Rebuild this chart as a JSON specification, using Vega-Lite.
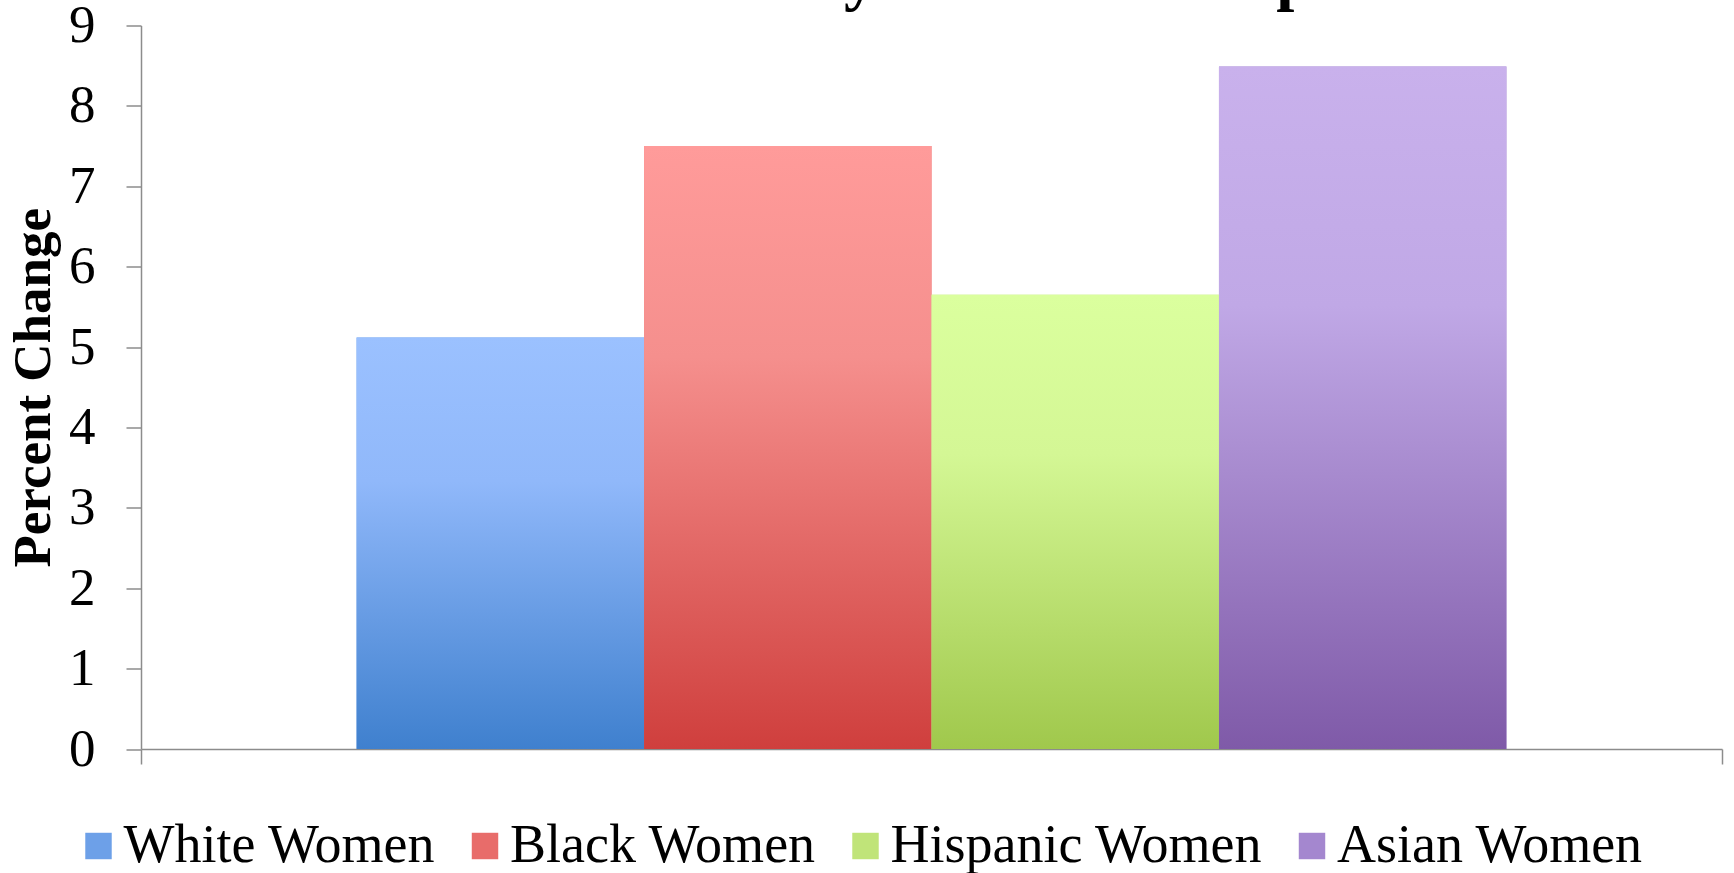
{
  "$schema": "https://vega.github.io/schema/vega-lite/v6.json",
  "width": 1581,
  "height": 723.5,
  "autosize": "none",
  "padding": {"left": 141, "top": 25.5, "right": 12, "bottom": 124},
  "background": "white",
  "title": {
    "text": "Women's Salary Increase Comparison",
    "font": "Liberation Serif",
    "fontSize": 65,
    "fontWeight": "bold",
    "color": "black",
    "anchor": "middle",
    "baseline": "alphabetic",
    "offset": 0,
    "dy": 63,
    "dx": 23
  },
  "data": {
    "values": [
      {"cat": "Women", "group": "White Women", "value": 5.12},
      {"cat": "Women", "group": "Black Women", "value": 7.5},
      {"cat": "Women", "group": "Hispanic Women", "value": 5.65},
      {"cat": "Women", "group": "Asian Women", "value": 8.49}
    ]
  },
  "encoding": {
    "x": {
      "field": "cat", "type": "nominal",
      "scale": {"paddingInner": 0, "paddingOuter": 0},
      "axis": {"labels": false, "title": null, "tickBand": "extent", "tickSize": 15, "tickColor": "#8c8c8c", "domainColor": "#8c8c8c", "tickWidth": 1.5, "domainWidth": 1.5, "grid": false}
    },
    "xOffset": {
      "field": "group", "type": "nominal",
      "scale": {"domain": ["White Women", "Black Women", "Hispanic Women", "Asian Women"], "paddingInner": 0, "paddingOuter": 0.75}
    },
    "y": {
      "field": "value", "type": "quantitative",
      "scale": {"domain": [0, 9], "nice": false},
      "axis": {
        "values": [0, 1, 2, 3, 4, 5, 6, 7, 8, 9],
        "grid": false,
        "tickSize": 15, "tickColor": "#8c8c8c", "domainColor": "#8c8c8c", "tickWidth": 1.5, "domainWidth": 1.5,
        "labelFont": "Liberation Serif", "labelFontSize": 53, "labelColor": "black", "labelPadding": 31, "labelOverlap": false, "labelFlush": false,
        "title": "Percent Change", "titleFont": "Liberation Serif", "titleFontSize": 53, "titleFontWeight": "bold", "titleColor": "black", "titlePadding": 8
      }
    }
  },
  "layer": [
    {
      "mark": {"type": "bar"},
      "encoding": {
        "fill": {
          "field": "group", "type": "nominal",
          "scale": {"domain": ["White Women", "Black Women", "Hispanic Women", "Asian Women"], "range": ["#6da0e8", "#e86c6a", "#c0e479", "#a487cf"]},
          "legend": {
            "orient": "none", "legendX": -69.5, "legendY": 793.5,
            "direction": "horizontal", "columns": 4, "title": null,
            "symbolType": "square", "symbolSize": 700, "symbolStrokeWidth": 0,
            "labelFont": "Liberation Serif", "labelFontSize": 54, "labelColor": "black", "labelOffset": -2,
            "columnPadding": 21.5, "gridAlign": "none", "labelLimit": 0
          }
        }
      }
    },
    {
      "transform": [{"filter": "datum.group === 'White Women'"}],
      "mark": {"type": "bar", "color": {"gradient": "linear", "x1": 0, "y1": 0, "x2": 0, "y2": 1, "stops": [{"offset": 0, "color": "#9bc1ff"}, {"offset": 0.35, "color": "#90b8fa"}, {"offset": 1, "color": "#3f80ce"}]}},
      "encoding": {}
    },
    {
      "transform": [{"filter": "datum.group === 'Black Women'"}],
      "mark": {"type": "bar", "color": {"gradient": "linear", "x1": 0, "y1": 0, "x2": 0, "y2": 1, "stops": [{"offset": 0, "color": "#ff9b9a"}, {"offset": 0.35, "color": "#f58f8d"}, {"offset": 1, "color": "#cf3f3d"}]}},
      "encoding": {}
    },
    {
      "transform": [{"filter": "datum.group === 'Hispanic Women'"}],
      "mark": {"type": "bar", "color": {"gradient": "linear", "x1": 0, "y1": 0, "x2": 0, "y2": 1, "stops": [{"offset": 0, "color": "#dbff9e"}, {"offset": 0.35, "color": "#d4f795"}, {"offset": 1, "color": "#a0c84c"}]}},
      "encoding": {}
    },
    {
      "transform": [{"filter": "datum.group === 'Asian Women'"}],
      "mark": {"type": "bar", "color": {"gradient": "linear", "x1": 0, "y1": 0, "x2": 0, "y2": 1, "stops": [{"offset": 0, "color": "#c9b1ec"}, {"offset": 0.35, "color": "#c0a8e6"}, {"offset": 1, "color": "#7f5aa8"}]}},
      "encoding": {}
    }
  ],
  "config": {
    "view": {"stroke": null}
  }
}
